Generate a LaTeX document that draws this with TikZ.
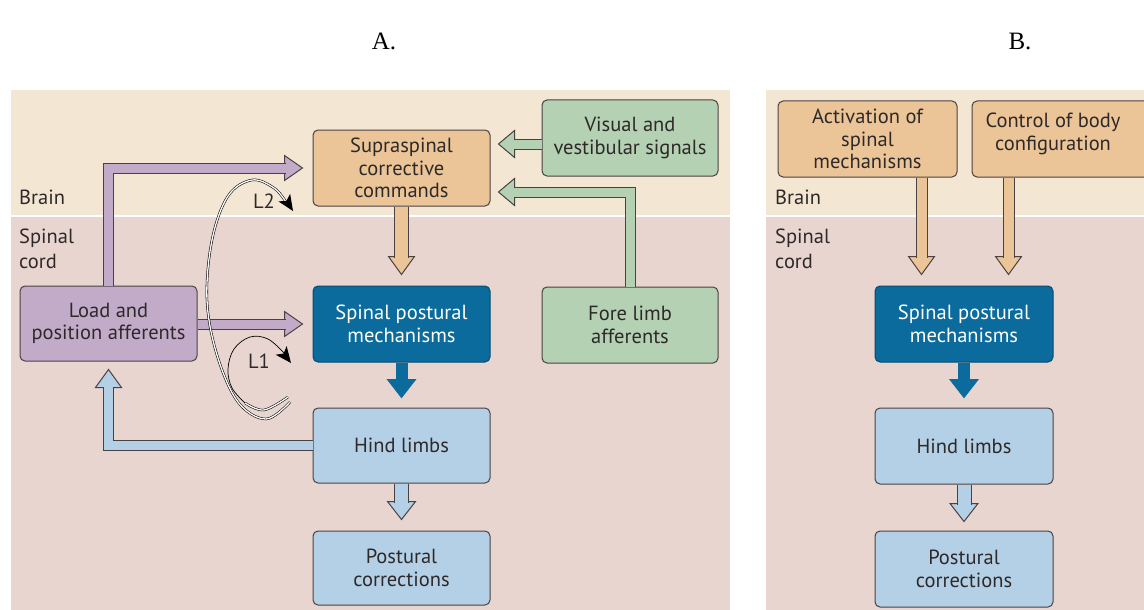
\documentclass[tikz,border=0pt]{standalone}
\usepackage{fontspec}
\setmainfont{PT Sans}
\newfontfamily\titlefont{Liberation Serif}
\usetikzlibrary{calc,arrows.meta}

\definecolor{brainbg}{HTML}{F3E7D4}
\definecolor{cordbg}{HTML}{E9D5D0}
\definecolor{tanfill}{HTML}{EBC597}
\definecolor{greenfill}{HTML}{B4D1B3}
\definecolor{purplefill}{HTML}{C2ABC9}
\definecolor{darkblue}{HTML}{0B6B9C}
\definecolor{lightblue}{HTML}{B4D0E6}
\definecolor{edge}{HTML}{4A4242}
\definecolor{ink}{HTML}{2E2929}

% block arrow heads: tip coordinate, half width, style
\newcommand\headR[3]{\filldraw[#3] (#1) -- ++(-18,-#2) -- ++(0,{2*#2}) -- cycle;}
\newcommand\headL[3]{\filldraw[#3] (#1) -- ++(16,-#2) -- ++(0,{2*#2}) -- cycle;}
\newcommand\headD[3]{\filldraw[#3] (#1) -- ++(-#2,-18) -- ++({2*#2},0) -- cycle;}
\newcommand\headU[3]{\filldraw[#3] (#1) -- ++(-#2,18) -- ++({2*#2},0) -- cycle;}
% loop arrow head: tip coordinate, direction angle on the page
\newcommand\loophead[2]{\fill[black, shift={(#1)}, rotate=#2]
  (0,0) -- (-16,-7) -- (-12,0) -- (-16,7) -- cycle;}

\begin{document}
\begin{tikzpicture}[x=1pt,y=-1pt,
  font=\fontsize{20.5}{22.5}\selectfont,
  box/.style={draw=edge, line width=1pt, rounded corners=5pt,
    minimum width=177pt, minimum height=76pt, align=center, text=ink, inner sep=1pt},
  tanbox/.style={box, fill=tanfill},
  greenbox/.style={box, fill=greenfill},
  purplebox/.style={box, fill=purplefill},
  darkbox/.style={box, fill=darkblue, draw=darkblue!70!black, text=white},
  lightbox/.style={box, fill=lightblue},
  region/.style={font=\fontsize{20.5}{25}\selectfont, text=ink, align=left, inner sep=0pt},
  head/.style={fill=#1, draw=edge, line width=1pt, line join=miter},
  shaft/.style={draw=edge, line width=1pt, double=#1, double distance=9pt, line join=miter},
  darkhead/.style={fill=darkblue, draw=darkblue, line width=1pt, line join=miter},
  darkshaft/.style={draw=darkblue, line width=1pt, double=darkblue, double distance=10pt},
  loopline/.style={draw=black, line width=0.7pt},
  loopdouble/.style={draw=black, line width=0.55pt, double=white, double distance=1.3pt},
]
\useasboundingbox (0,0) rectangle (1144,610);
\clip (0,0) rectangle (1144,610);

% panel backgrounds
\fill[brainbg] (11,90) rectangle (730,215);
\fill[cordbg] (11,217) rectangle (730,610);
\fill[brainbg] (766,90) rectangle (1144,215);
\fill[cordbg] (766,217) rectangle (1144,610);

% titles
\node[font=\titlefont\fontsize{25}{28}\selectfont] (titleA) at (384,41) {A.};
\node[font=\titlefont\fontsize{25}{28}\selectfont] (titleB) at (1020,41) {B.};

% region labels
\node[region, anchor=base west] (brainA) at (19,204) {Brain};
\node[region, anchor=north west] (cordA) at (19,229) {Spinal\\cord};
\node[region, anchor=base west] (brainB) at (775,204) {Brain};
\node[region, anchor=north west] (cordB) at (775,229) {Spinal\\cord};

% ---------- panel A ----------
\node[tanbox] (sup) at (401.5,168) {Supraspinal\\corrective\\commands};
\node[greenbox, minimum width=176pt] (vis) at (630,138) {Visual and\\vestibular signals};
\node[greenbox, minimum width=176pt] (fore) at (630,325) {Fore limb\\afferents};
\node[darkbox] (spm) at (401.5,324) {Spinal postural\\mechanisms};
\node[lightbox, minimum height=75pt] (hind) at (401.5,445.5) {Hind limbs};
\node[lightbox, minimum height=74pt] (post) at (401.5,568) {Postural\\corrections};
\node[purplebox, minimum height=75pt] (load) at (108.5,323.5) {Load and\\position afferents};

% arrow tips
\coordinate (p1) at ($(sup.west)+(-10,0)$);
\coordinate (p2) at ($(spm.west)+(-10,0)$);
\coordinate (o1) at ($(spm.north)+(0,-11)$);
\coordinate (g1) at ($(sup.east)+(8,-24)$);
\coordinate (g2) at ($(sup.east)+(8,24)$);
\coordinate (d1) at ($(hind.north)+(0,-10)$);
\coordinate (l1) at ($(post.north)+(0,-11)$);
\coordinate (r1) at ($(load.south)+(0,8)$);

% load and position afferents -> supraspinal / spinal
\headR{p1}{12.5}{head=purplefill}
\draw[shaft=purplefill] (load.north) |- ($(p1)+(-17,0)$);
\headR{p2}{12.5}{head=purplefill}
\draw[shaft=purplefill] (load.east |- p2) -- ($(p2)+(-17,0)$);

% supraspinal -> spinal
\headD{o1}{13}{head=tanfill}
\draw[shaft=tanfill, double distance=13pt] (sup.south) -- ($(o1)+(0,-17)$);

% visual/vestibular and fore limb -> supraspinal
\headL{g1}{13.5}{head=greenfill}
\draw[shaft=greenfill] (vis.west |- g1) -- ($(g1)+(15,0)$);
\headL{g2}{13.5}{head=greenfill}
\draw[shaft=greenfill] (fore.north) |- ($(g2)+(15,0)$);

% spinal -> hind limbs -> postural corrections
\headD{d1}{14}{darkhead}
\draw[darkshaft] (spm.south) -- ($(d1)+(0,-17)$);
\headD{l1}{14}{head=lightblue}
\draw[shaft=lightblue, double distance=13pt] (hind.south) -- ($(l1)+(0,-17)$);

% hind limbs -> load and position afferents
\headU{r1}{13}{head=lightblue}
\draw[shaft=lightblue] (hind.west) -| ($(r1)+(0,17)$);

% feedback loops L2 (through the brain) and L1 (spinal)
\coordinate (L2tip) at (293,211);
\coordinate (L1tip) at (291,363);
\draw[loopdouble] plot[smooth, tension=0.6] coordinates
  {(290,402) (266,419) (238,402) (217,355) (207,300) (212,240) (228,196) (252,180) (274,188) (286,202)};
\loophead{L2tip}{-57}
\draw[loopdouble] plot[smooth, tension=0.6] coordinates
  {(288,397) (264,410) (245,403)};
\draw[loopline] plot[smooth, tension=0.6] coordinates
  {(245,403) (232,388) (228,369) (234,349) (250,337) (268,339) (284,353)};
\loophead{L1tip}{-52}
\node[text=ink, inner sep=0pt] (L2) at (264,201) {L2};
\node[text=ink, inner sep=0pt] (L1) at (259,361) {L1};

% ---------- panel B ----------
\node[tanbox, minimum width=179pt] (act) at (867.5,139) {Activation of\\spinal\\mechanisms};
\node[tanbox, minimum width=178pt] (ctl) at (1061,139) {};
\node[text=ink, align=center, inner sep=0pt] (ctltext) at (1053,134) {Control of body\\configuration};
\node[darkbox, minimum width=178pt] (spmB) at (964,324) {Spinal postural\\mechanisms};
\node[lightbox, minimum width=178pt] (hindB) at (964,446) {Hind limbs};
\node[lightbox, minimum width=178pt] (postB) at (964,569) {Postural\\corrections};

\coordinate (a1) at ($(act.south east)+(-36,0)$);
\coordinate (a1t) at ($(a1 |- spmB.north)+(0,-11)$);
\coordinate (c1) at ($(ctl.south west)+(37,0)$);
\coordinate (c1t) at ($(c1 |- spmB.north)+(0,-11)$);
\coordinate (dB) at ($(hindB.north)+(0,-10)$);
\coordinate (lB) at ($(postB.north)+(0,-9)$);

\headD{a1t}{13}{head=tanfill}
\draw[shaft=tanfill, double distance=10pt] (a1) -- ($(a1t)+(0,-17)$);
\headD{c1t}{13}{head=tanfill}
\draw[shaft=tanfill, double distance=10pt] (c1) -- ($(c1t)+(0,-17)$);
\headD{dB}{14}{darkhead}
\draw[darkshaft] (spmB.south) -- ($(dB)+(0,-17)$);
\headD{lB}{14}{head=lightblue}
\draw[shaft=lightblue, double distance=13pt] (hindB.south) -- ($(lB)+(0,-17)$);
\end{tikzpicture}
\end{document}
